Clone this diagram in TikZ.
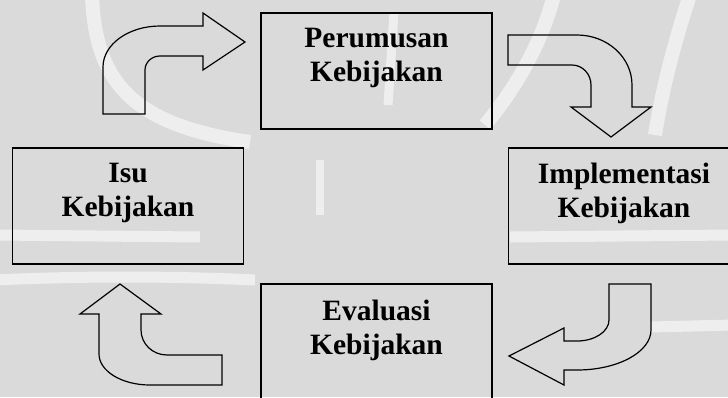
\documentclass[tikz,border=0pt]{standalone}
\usepackage{fontspec}
\setmainfont{Liberation Serif}
\usetikzlibrary{positioning}
\definecolor{paper}{RGB}{218,218,218}

\begin{document}
\begin{tikzpicture}[x=1pt, y=-1pt,
    box/.style={draw, line width=1.3pt, minimum width=231pt, minimum height=116pt, inner sep=0pt, outer sep=0pt},
    caption/.style={font=\fontsize{29.5}{34.5}\selectfont\bfseries, align=center, inner sep=0pt, outer sep=0pt},
    blockarrow/.style={draw, line width=1.2pt, line join=miter},
    crest/.style={white, line width=14pt, opacity=0.55}]
    \fill[paper] (0,0) rectangle (728,397);
    \useasboundingbox (0,0) rectangle (728,397);

    % faint watermark
    \draw[crest] (92,-5) .. controls (95,80) and (130,125) .. (250,142);
    \draw[crest] (690,-5) .. controls (675,40) and (662,90) .. (655,135);
    \draw[crest] (554,-5) .. controls (540,50) and (510,95) .. (485,125);
    \draw[crest, line width=9pt] (394,12) -- (388,105);
    \draw[crest, line width=8pt] (320,160) -- (320,215);
    \draw[crest, line width=11pt] (-5,235) -- (200,237);
    \draw[crest, line width=11pt] (-5,280) .. controls (80,276) and (170,276) .. (255,280);
    \draw[crest, line width=11pt] (510,237) -- (733,235);
    \draw[crest, line width=11pt] (650,327) -- (733,325);

    % the four stages
    \node[box] (perumusan)    at (376.5,71)  {};
    \node[box] (isu)          at (128,206)   {};
    \node[box] (implementasi) at (624,206)   {};
    \node[box] (evaluasi)     at (376.5,342) {};

    \node[caption] (perumusan text)    [below=15pt of perumusan.north]    {Perumusan\\Kebijakan};
    \node[caption] (isu text)          [below=15pt of isu.north]          {Isu\\Kebijakan};
    \node[caption] (implementasi text) [below=15pt of implementasi.north] {Implementasi\\Kebijakan};
    \node[caption] (evaluasi text)     [below=16pt of evaluasi.north]     {Evaluasi\\Kebijakan};

    % isu -> perumusan
    \draw[blockarrow] (103,114) -- (103,67) .. controls (103,44.4) and (128.5,26) .. (160,26)
        -- (203,26) -- (203,13) -- (245,42) -- (203,70) -- (203,56) -- (160,56)
        .. controls (151.7,56) and (145,62.3) .. (145,70) -- (145,114) -- cycle;
    % perumusan -> implementasi
    \draw[blockarrow] (508,35) -- (577,35) .. controls (607.4,35) and (632,57.4) .. (632,85)
        -- (632,107) -- (651,107) -- (611,137) -- (571,107) -- (591,107) -- (591,85)
        .. controls (591,74) and (582.5,65) .. (572,65) -- (508,65) -- cycle;
    % implementasi -> evaluasi
    \draw[blockarrow] (609,284) -- (651,284) -- (651,330) .. controls (651,352.1) and (617.8,370) .. (577,370)
        -- (564,370) -- (564,385) -- (509,356) -- (564,328) -- (564,341) -- (577,341)
        .. controls (594.7,341) and (609,331.6) .. (609,320) -- cycle;
    % evaluasi -> isu
    \draw[blockarrow] (222,385) -- (150,385) .. controls (121.8,385) and (99,371.1) .. (99,354)
        -- (99,314) -- (80,314) -- (120,284) -- (161,314) -- (141,314) -- (141,330)
        .. controls (141,343.8) and (152.6,355) .. (167,355) -- (222,355) -- cycle;
\end{tikzpicture}
\end{document}
